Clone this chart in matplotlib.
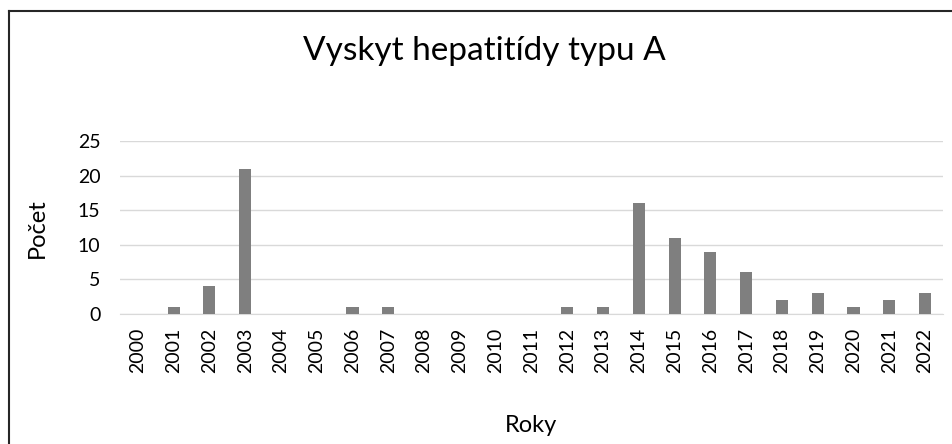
import matplotlib
matplotlib.use("Agg")
import matplotlib.pyplot as plt
from matplotlib.lines import Line2D

years = [str(y) for y in range(2000, 2023)]
counts = [0, 1, 4, 21, 0, 0, 1, 1, 0, 0, 0, 0, 1, 1, 16, 11, 9, 6, 2, 3, 1, 2, 3]
yticks = [0, 5, 10, 15, 20, 25]

plt.rcParams['font.family'] = ['Lato', 'DejaVu Sans']
fig = plt.figure(figsize=(9.52, 4.44), dpi=100)
ax = fig.add_axes([0.126, 0.2928, 0.8645, 0.3896])
x = list(range(len(years)))
ax.bar(x, counts, width=0.34, color='#7f7f7f', zorder=3)
ax.set_xlim(-0.5, len(years) - 0.5)
ax.set_ylim(0, 25)
ax.set_yticks(yticks)
ax.set_yticklabels([str(v) for v in yticks], fontsize=14, color='#000000')
ax.set_xticks(x)
ax.set_xticklabels(years, rotation=90, fontsize=14, color='#000000')
ax.tick_params(axis='x', length=0, pad=10)
ax.tick_params(axis='y', length=0, pad=14)
ax.grid(axis='y', color='#d9d9d9', linewidth=1, zorder=0)
for s in ['top', 'right', 'left']:
    ax.spines[s].set_visible(False)
ax.spines['bottom'].set_color('#d9d9d9')
fig.text(37 / 952, 1 - 228 / 444, 'Počet', ha='center', va='center', rotation=90, fontsize=17)
fig.text(531 / 952, 1 - 425 / 444, 'Roky', ha='center', va='center', fontsize=17)
fig.text(484 / 952, 1 - 51 / 444, 'Vyskyt hepatitídy typu A', ha='center', va='center', fontsize=24)

# outer chart frame (extends past right/bottom edges of the image)
bx, by = 8.5 / 952, 1 - 11.5 / 444
fig.lines.append(Line2D([bx, 1.01], [by, by], transform=fig.transFigure,
                        color='#262626', linewidth=1.5))
fig.lines.append(Line2D([bx, bx], [by, -0.01], transform=fig.transFigure,
                        color='#262626', linewidth=1.5))
fig.savefig('out.png', dpi=100)
